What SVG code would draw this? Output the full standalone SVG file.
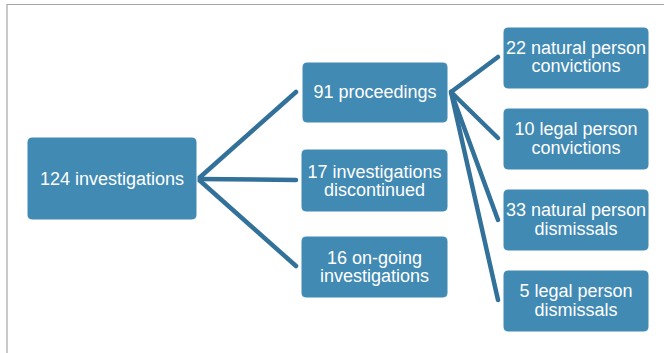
<svg xmlns="http://www.w3.org/2000/svg" width="664" height="353" viewBox="0 0 664 353">
  <style>
    .box { fill: #418ab4; stroke: #ffffff; stroke-width: 1; }
    .lbl { fill: #ffffff; font-family: "Liberation Sans", Arial, sans-serif; font-size: 18px; text-anchor: middle; }
    .link { stroke: #32719a; stroke-width: 4.5; stroke-linecap: round; fill: none; }
    .frame { stroke: #a6a6a6; stroke-width: 1.2; fill: none; }
  </style>
  <rect x="0" y="0" width="664" height="353" fill="#ffffff"/>
  <!-- page frame: top and left edges -->
  <path class="frame" d="M7 353 V4.5 H664"/>

  <g id="connectors">
    <line class="link" x1="198" y1="179" x2="296" y2="92"/>
    <line class="link" x1="198" y1="179" x2="296" y2="180"/>
    <line class="link" x1="198" y1="179" x2="296" y2="266"/>
    <line class="link" x1="451" y1="92" x2="498" y2="57"/>
    <line class="link" x1="451" y1="92" x2="498" y2="138"/>
    <line class="link" x1="451" y1="92" x2="498" y2="220"/>
    <line class="link" x1="451" y1="92" x2="498" y2="300"/>
  </g>

  <g id="n-124-investigations">
    <rect class="box" x="27" y="137" width="170" height="83" rx="5"/>
    <text class="lbl" x="112" y="185">124 investigations</text>
  </g>
  <g id="n-91-proceedings">
    <rect class="box" x="302" y="62" width="146" height="61" rx="5"/>
    <text class="lbl" x="375" y="98">91 proceedings</text>
  </g>
  <g id="n-17-discontinued">
    <rect class="box" x="301" y="149" width="147" height="63" rx="5"/>
    <text class="lbl" x="374.5" y="177.5">17 investigations</text>
    <text class="lbl" x="374.5" y="196">discontinued</text>
  </g>
  <g id="n-16-ongoing">
    <rect class="box" x="301" y="236" width="147" height="62" rx="5"/>
    <text class="lbl" x="374.5" y="263.5">16 on-going</text>
    <text class="lbl" x="374.5" y="282">investigations</text>
  </g>
  <g id="n-22-natural-convictions">
    <rect class="box" x="503" y="27" width="146" height="62" rx="5"/>
    <text class="lbl" x="576" y="53.5">22 natural person</text>
    <text class="lbl" x="576" y="72">convictions</text>
  </g>
  <g id="n-10-legal-convictions">
    <rect class="box" x="503" y="108" width="146" height="62" rx="5"/>
    <text class="lbl" x="576" y="135">10 legal person</text>
    <text class="lbl" x="576" y="153.5">convictions</text>
  </g>
  <g id="n-33-natural-dismissals">
    <rect class="box" x="503" y="189" width="146" height="62" rx="5"/>
    <text class="lbl" x="576" y="216">33 natural person</text>
    <text class="lbl" x="576" y="234.5">dismissals</text>
  </g>
  <g id="n-5-legal-dismissals">
    <rect class="box" x="503" y="270" width="146" height="62" rx="5"/>
    <text class="lbl" x="576" y="297">5 legal person</text>
    <text class="lbl" x="576" y="315.5">dismissals</text>
  </g>
</svg>
